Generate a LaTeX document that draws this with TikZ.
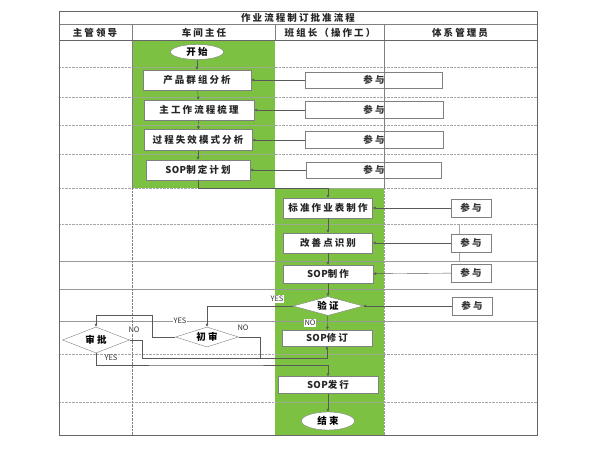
\documentclass[tikz,border=0pt]{standalone}
\usepackage{fontspec}
\newfontfamily\cjk[LetterSpace=22]{Noto Sans CJK SC}
\usetikzlibrary{shapes.geometric,arrows.meta}
\definecolor{flowgreen}{RGB}{124,193,66}
\definecolor{linegray}{RGB}{128,128,128}
\newcommand{\sopword}{{\addfontfeature{LetterSpace=4}SOP}}
\tikzset{
  proc/.style={draw=linegray, fill=white, inner sep=0pt, font=\cjk\fontsize{9.5}{10}\selectfont\bfseries, text=black!85},
  canyu/.style={draw=linegray, inner sep=0pt, font=\cjk\fontsize{9.5}{10}\selectfont\bfseries, text=black!80},
  startend/.style={ellipse, draw=linegray, fill=white, inner sep=0pt, font=\cjk\fontsize{9.5}{10}\selectfont\bfseries},
  judge/.style={diamond, aspect=3, draw=linegray, fill=white, inner sep=0pt, font=\cjk\fontsize{9.5}{10}\selectfont\bfseries},
  lbl/.style={fill=white, inner sep=1pt, font=\cjk\fontsize{7.5}{8}\selectfont\addfontfeature{LetterSpace=0}, text=black!80},
  head/.style={font=\cjk\fontsize{9.5}{10}\selectfont\bfseries, text=black!85},
  arr/.style={draw=black!65, -{Latex[length=3pt,width=3pt]}},
  rowline/.style={draw=linegray!70, densely dotted},
  rowsolid/.style={draw=linegray!80},
}
\begin{document}
\begin{tikzpicture}[x=1pt, y=-1pt]
  \useasboundingbox (0,0) rectangle (599,452);
  \begin{scope}
    \fill[flowgreen] (132,40) rectangle (275,188);
    \fill[flowgreen] (275,188) rectangle (384,435);
    \foreach \y in {67,97,125,154,188,224,354,402}
      \draw[rowline] (59,\y) -- (537,\y);
    \foreach \y in {261,289,321}
      \draw[rowsolid] (59,\y) -- (537,\y);
    \draw[linegray] (132,25) -- (132,188);
    \draw[linegray, densely dotted] (132,188) -- (132,435);
    \draw[linegray] (275,25) -- (275,40);
    \draw[linegray] (384,25) -- (384,188);
    \draw[linegray!80, densely dotted] (384,188) -- (384,435);
    \draw[linegray!70] (459,224) -- (459,261);
    \draw[linegray, line width=1pt] (59,25) -- (537,25);
    \draw[black!60, line width=0.8pt] (59,40) -- (537,40);
    \draw[black!60, line width=0.8pt] (59,11) rectangle (537,435);
  \end{scope}

  \node[head] (title) at (298,18) {作业流程制订批准流程};
  \node[head] (h1) at (95,33) {主管领导};
  \node[head] (h2) at (204,33) {车间主任};
  \node[head] (h3) at (330,33) {班组长（操作工）};
  \node[head] (h4) at (460,33) {体系管理员};

  \node[startend, minimum width=53, minimum height=15] (start) at (197,52) {开始};
  \node[proc, minimum width=108, minimum height=20] (p1) at (197,80) {产品群组分析};
  \node[proc, minimum width=110, minimum height=20] (p2) at (199,110) {主工作流程梳理};
  \node[proc, minimum width=108, minimum height=21] (p3) at (198,140) {过程失效模式分析};
  \node[proc, minimum width=104, minimum height=20] (p4) at (198,170) {\sopword 制定计划};
  \node[canyu, minimum width=137, minimum height=16] (c1) at (374,80) {参与};
  \node[canyu, minimum width=138, minimum height=17] (c2) at (374,110) {参与};
  \node[canyu, minimum width=138, minimum height=17] (c3) at (374,140) {参与};
  \node[canyu, minimum width=135, minimum height=16] (c4) at (374,170) {参与};

  \node[proc, minimum width=89, minimum height=20] (s1) at (328,208) {标准作业表制作};
  \node[proc, minimum width=89, minimum height=20] (s2) at (328,243) {改善点识别};
  \node[proc, minimum width=90, minimum height=18] (s3) at (328,274) {\sopword 制作};
  \node[judge, minimum width=70, minimum height=19] (v) at (328,306) {验证};
  \node[proc, minimum width=90, minimum height=16] (r) at (327,338) {\sopword 修订};
  \node[proc, minimum width=100, minimum height=17] (f) at (328,385) {\sopword 发行};
  \node[startend, minimum width=53, minimum height=18] (e) at (328,421) {结束};
  \node[canyu, fill=white, minimum width=40, minimum height=18] (k1) at (471,208) {参与};
  \node[canyu, fill=white, minimum width=40, minimum height=18] (k2) at (471,243) {参与};
  \node[canyu, fill=white, minimum width=40, minimum height=18] (k3) at (471,273) {参与};
  \node[canyu, fill=white, minimum width=40, minimum height=18] (k4) at (472,306) {参与};

  \node[judge, minimum width=63, minimum height=20] (a) at (207,337) {初审};
  \node[judge, minimum width=67, minimum height=26] (b) at (96,340) {审批};

  \coordinate (y1) at (152,315);
  \coordinate (m1) at (260,358);
  \coordinate (m2) at (142,358);
  \coordinate (m3) at (200,365);

  \draw[arr] (start) -- (p1);
  \draw[arr] (p1) -- (p2);
  \draw[arr] (p2) -- (p3);
  \draw[arr] (p3) -- (p4);
  \draw[arr] (c1) -- (p1);
  \draw[arr] (c2) -- (p2);
  \draw[arr] (c3) -- (p3);
  \draw[arr] (c4) -- (p4);
  \draw[arr] (p4.south) -- ++(0,8) -| (s1.north);
  \draw[arr] (s1) -- (s2);
  \draw[arr] (s2) -- (s3);
  \draw[arr] (s3) -- (v);
  \draw[arr] (v) -- (r);
  \draw[arr] (k1) -- (s1);
  \draw[arr] (k2) -- (s2);
  \draw[arr] (k3) -- (s3);
  \draw[arr] (k4) -- (v);
  \draw[arr] (v.west) -| (a.north);
  \draw[arr] (a.west) -| (y1) -| (b.north);
  \draw[draw=black!65] (b.east) -| (m2) -- (m1);
  \draw[arr] (a.east) -| (m1) -| (r.south);
  \draw[arr] (b.south) |- (m3) -| (f.north);
  \draw[arr] (f) -- (e);

  \node[lbl] (yes1) at (277,299) {YES};
  \node[lbl] (no1) at (310,323) {NO};
  \node[lbl] (yes2) at (180,321) {YES};
  \node[lbl] (no2) at (243,328) {NO};
  \node[lbl] (no3) at (134,330) {NO};
  \node[lbl, fill=none] (yes3) at (111,358) {YES};
\end{tikzpicture}
\end{document}
